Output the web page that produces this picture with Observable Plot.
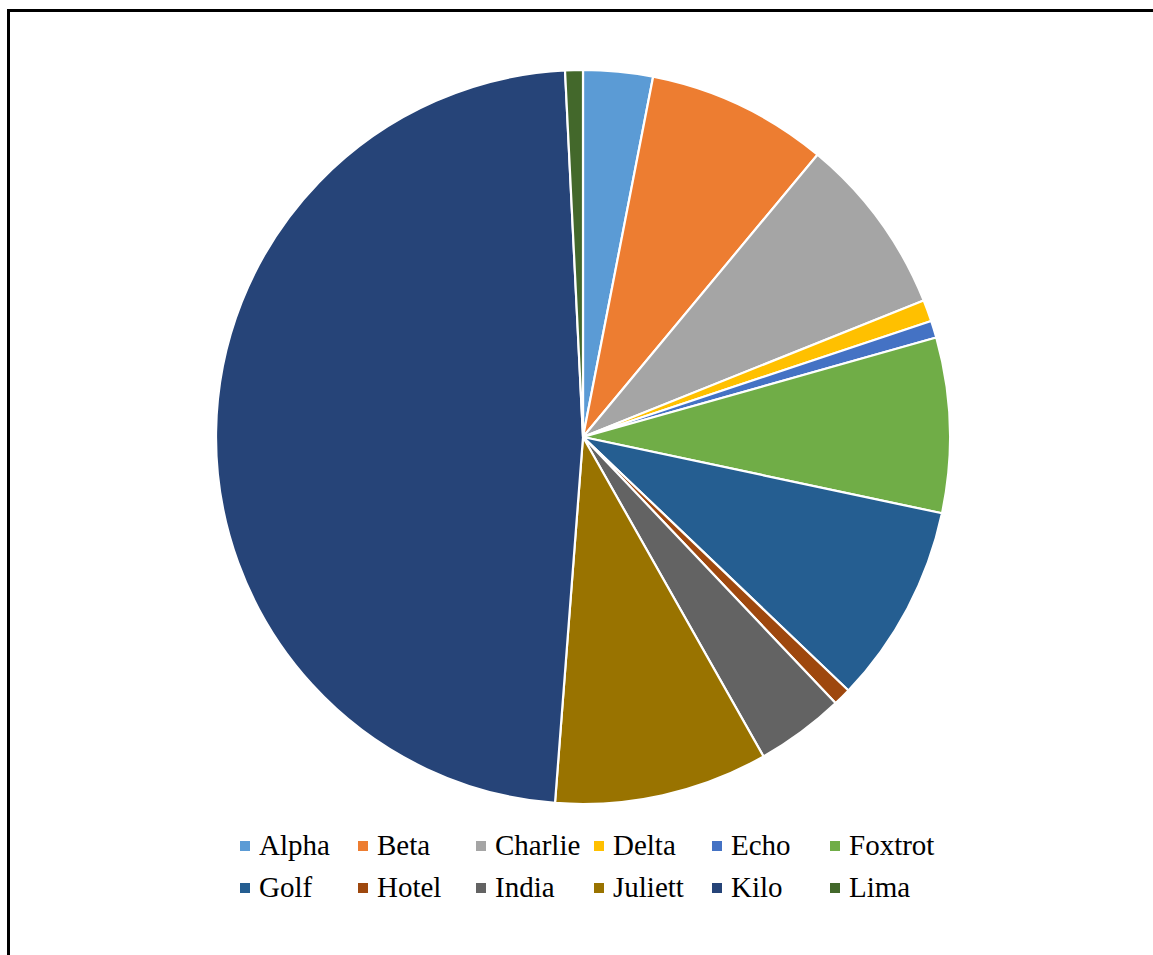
<!DOCTYPE html>
<html>
<head>
<meta charset="utf-8">
<script src="https://cdn.jsdelivr.net/npm/d3@7"></script>
<script src="https://cdn.jsdelivr.net/npm/@observablehq/plot@0.6"></script>
<style>
  html, body { margin: 0; padding: 0; background: #fff; }
  #wrap { position: relative; width: 1153px; height: 955px; overflow: hidden; }
  #frame { position: absolute; left: 7px; top: 9px; width: 1200px; height: 1000px;
           border-left: 3px solid #000; border-top: 3px solid #000; }
  #chart { position: absolute; left: 0; top: 0; }
  #legend { position: absolute; left: 240px; top: 827px; display: grid;
            grid-template-columns: repeat(6, 118px); row-gap: 5px;
            font-family: "Liberation Serif", "Times New Roman", serif; font-size: 29px; color: #000; }
  .item { display: flex; align-items: center; height: 37px; white-space: nowrap; }
  .sw { width: 10px; height: 10px; margin-right: 9px; flex: none; }
</style>
</head>
<body>
<div id="wrap">
  <div id="frame"></div>
  <div id="chart"></div>
  <div id="legend"></div>
</div>
<script>
const categories = ["Alpha","Beta","Charlie","Delta","Echo","Foxtrot","Golf","Hotel","India","Juliett","Kilo","Lima"];
const values = [3.06, 7.97, 7.9, 0.95, 0.75, 7.7, 8.8, 0.78, 3.9, 9.4, 48.0, 0.78];
const colors = ["#5B9BD5","#ED7D31","#A5A5A5","#FFC000","#4472C4","#70AD47","#255E91","#9E480E","#636363","#997300","#264478","#43682B"];

const data = categories.map((c, i) => ({category: c, value: values[i]}));
const colorScale = Plot.scale({color: {type: "ordinal", domain: categories, range: colors}});

const cx = 583, cy = 437, radius = 367;

function pieMark(index, scales, vals, dims, context) {
  const pie = d3.pie().sort(null).value(d => d.value)(data);
  const arc = d3.arc().innerRadius(0).outerRadius(radius);
  const g = d3.create("svg:g").attr("transform", `translate(${cx},${cy})`);
  g.selectAll("path").data(pie).join("path")
    .attr("d", arc)
    .attr("fill", d => scales.color(d.data.category))
    .attr("stroke", "#fff")
    .attr("stroke-width", 2.2)
    .attr("stroke-linejoin", "round");
  return g.node();
}

const chart = Plot.plot({
  width: 1153,
  height: 955,
  margin: 0,
  x: {axis: null},
  y: {axis: null},
  color: {type: "ordinal", domain: categories, range: colors},
  style: {background: "transparent"},
  marks: [pieMark]
});
document.getElementById("chart").append(chart);

const legend = document.getElementById("legend");
categories.forEach(c => {
  const item = document.createElement("div");
  item.className = "item";
  const sw = document.createElement("span");
  sw.className = "sw";
  sw.style.background = colorScale.apply(c);
  const t = document.createElement("span");
  t.textContent = c;
  item.append(sw, t);
  legend.append(item);
});
</script>
</body>
</html>
